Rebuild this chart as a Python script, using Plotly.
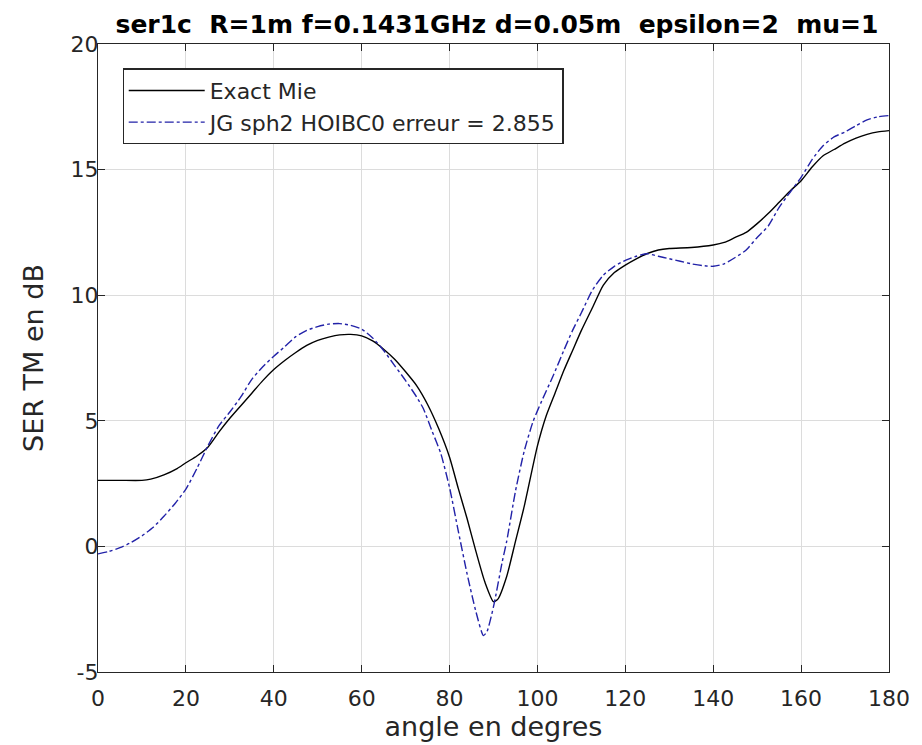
import plotly.graph_objects as go

# Exact Mie (black solid)
mie_angle = [0, 5, 10, 12, 15, 18, 20, 22.5, 25, 27.5, 30, 32.5, 35, 37.5, 40, 42.5, 45, 47.5,
             50, 52.5, 55, 57.5, 60, 62.5, 65, 67.5, 70, 72.5, 75, 77.5, 80, 82, 84, 86,
             88, 90, 91, 93, 95, 97, 100, 102, 104, 106, 108, 110, 112.5, 115, 117.5, 120,
             122.5, 125, 127.5, 130, 135, 140, 142.5, 145, 147.5, 150, 152.5, 155, 157.5,
             160, 162.5, 165, 167.5, 170, 172.5, 175, 177.5, 180]
mie_ser = [2.63, 2.63, 2.63, 2.68, 2.85, 3.1, 3.33, 3.6, 3.95, 4.55, 5.1, 5.6, 6.1, 6.6, 7.04,
           7.4, 7.72, 8.0, 8.2, 8.33, 8.42, 8.44, 8.38, 8.18, 7.85, 7.45, 6.95, 6.4, 5.65,
           4.7, 3.55, 2.3, 1.1, -0.2, -1.4, -2.2, -2.1, -1.2, 0.2, 1.6, 4.0, 5.2, 6.1,
           7.0, 7.8, 8.6, 9.5, 10.4, 10.9, 11.2, 11.45, 11.66, 11.8, 11.86, 11.9, 12.0,
           12.1, 12.3, 12.5, 12.85, 13.25, 13.7, 14.15, 14.56, 15.1, 15.55, 15.8, 16.05,
           16.25, 16.4, 16.5, 16.55]

# JG sph2 HOIBC0 (blue dash-dot)
jg_angle = [0, 2.5, 5, 7.5, 10, 12.5, 15, 17.5, 20, 22.5, 25, 27.5, 30, 32.5, 35, 37.5, 40,
            42.5, 45, 47.5, 50, 52.5, 55, 57.5, 60, 62.5, 65, 67.5, 70, 72.5, 74, 76, 78, 80,
            82, 84, 86, 87.7, 88.5, 90, 92, 93, 95, 97, 99, 101, 103.6, 106, 108, 110, 112.5,
            115, 117.5, 120, 122.5, 125, 127.5, 130, 132.5, 135, 137.5, 140, 142.5, 145,
            147.5, 150, 152.5, 155, 157.5, 160, 162.5, 165, 167.5, 170, 172.5, 175, 177.5, 180]
jg_ser = [-0.3, -0.2, -0.05, 0.15, 0.42, 0.75, 1.2, 1.7, 2.28, 3.1, 4.0, 4.8, 5.35, 5.95,
          6.65, 7.15, 7.57, 7.95, 8.35, 8.6, 8.75, 8.85, 8.87, 8.8, 8.65, 8.3, 7.8, 7.2, 6.6,
          5.95, 5.5, 4.6, 3.7, 2.34, 0.6, -1.1, -2.6, -3.55, -3.4, -2.4, -0.6, 0.2, 2.2, 3.8,
          4.97, 5.8, 6.8, 7.8, 8.6, 9.3, 10.2, 10.8, 11.15, 11.39, 11.55, 11.65, 11.55, 11.45,
          11.35, 11.25, 11.18, 11.15, 11.25, 11.5, 11.8, 12.3, 12.75, 13.5, 14.1, 14.69,
          15.4, 15.95, 16.3, 16.5, 16.75, 16.98, 17.1, 17.15]

x_ticks = [0, 20, 40, 60, 80, 100, 120, 140, 160, 180]
y_ticks = [-5, 0, 5, 10, 15, 20]
y_tick_text = ["-5", "0", "5", "10", "15", "20"]

FONT = "DejaVu Sans"
INK = "#262626"

fig = go.Figure()
fig.add_trace(go.Scatter(x=mie_angle, y=mie_ser, mode="lines", name="Exact Mie",
                         line=dict(color="black", width=1.4, shape="spline", smoothing=0.6)))
fig.add_trace(go.Scatter(x=jg_angle, y=jg_ser, mode="lines",
                         name="JG sph2 HOIBC0 erreur = 2.855",
                         line=dict(color="#2222a8", width=1.4, dash="dashdot",
                                   shape="spline", smoothing=0.6)))

axis_common = dict(showline=True, linecolor=INK, linewidth=1.3, mirror="ticks",
                   ticks="inside", ticklen=7, tickcolor=INK, showgrid=True,
                   gridcolor="#dcdcdc", gridwidth=1, zeroline=False,
                   tickfont=dict(family=FONT, size=22, color=INK))

fig.update_layout(
    width=914, height=737,
    margin=dict(l=90, r=33, t=36, b=73),
    paper_bgcolor="white", plot_bgcolor="white",
    title=dict(text="<b>ser1c  R=1m f=0.1431GHz d=0.05m  epsilon=2  mu=1</b>",
               x=0.535, xanchor="center", y=0.978, yanchor="middle",
               font=dict(family=FONT, size=25, color="black")),
    xaxis=dict(range=[0, 180], tickvals=x_ticks, ticklabelstandoff=6,
               title=dict(text="angle en degres", standoff=5,
                          font=dict(family=FONT, size=27, color=INK)),
               **axis_common),
    yaxis=dict(range=[-5, 20], tickvals=y_ticks, ticktext=y_tick_text,
               ticklabelstandoff=-6,
               title=dict(text="SER TM en dB", standoff=19,
                          font=dict(family=FONT, size=27, color=INK)),
               **axis_common),
    legend=dict(x=0.031, y=0.961, xanchor="left", yanchor="top",
                bgcolor="white", bordercolor=INK, borderwidth=1.2,
                font=dict(family=FONT, size=22, color=INK),
                itemwidth=76, tracegroupgap=0),
    showlegend=True,
)

fig.write_html("out.html")
